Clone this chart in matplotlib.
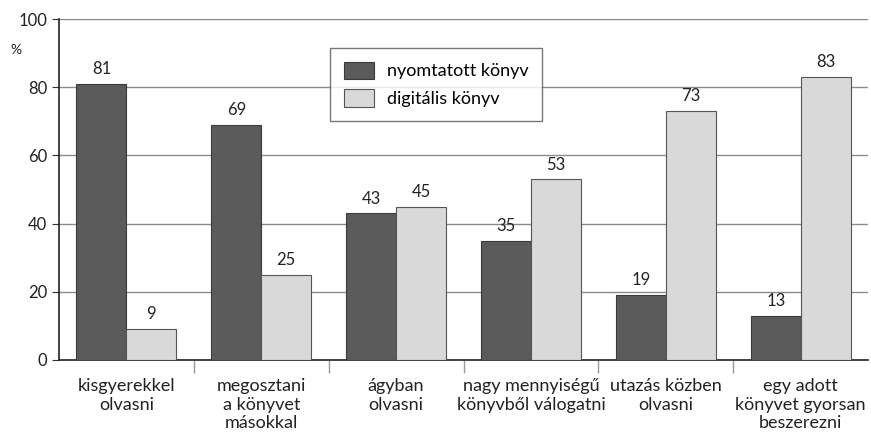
import numpy as np
import matplotlib
matplotlib.use('Agg')
from matplotlib import pyplot as plt

# adatok
kategoriak = ['kisgyerekkel\nolvasni', 'megosztani\na könyvet\nmásokkal', 'ágyban\nolvasni',
              'nagy mennyiségű\nkönyvből válogatni', 'utazás közben\nolvasni',
              'egy adott\nkönyvet gyorsan\nbeszerezni']
nyomtatott = [81, 69, 43, 35, 19, 13]
digitalis = [9, 25, 45, 53, 73, 83]
sorozat_nevek = ['nyomtatott könyv', 'digitális könyv']

plt.rcParams['font.family'] = ['Lato', 'DejaVu Sans']

fig = plt.figure(figsize=(8.71, 4.32), dpi=100)
ax = fig.add_axes([0.0677, 0.1667, 0.929, 0.789])

x = np.arange(len(kategoriak))
w = 0.37
b1 = ax.bar(x - w / 2, nyomtatott, w, color='#5b5b5b', edgecolor='#3a3a3a', linewidth=0.8,
            label=sorozat_nevek[0], zorder=3)
b2 = ax.bar(x + w / 2, digitalis, w, color='#d9d9d9', edgecolor='#555555', linewidth=0.8,
            label=sorozat_nevek[1], zorder=3)

for bars in (b1, b2):
    for r in bars:
        ax.text(r.get_x() + r.get_width() / 2, r.get_height() + 2.0, f'{int(r.get_height())}',
                ha='center', va='bottom', fontsize=12, color='#222222')

ax.set_xlim(-0.5, len(kategoriak) - 0.5)
ax.set_ylim(0, 100)
ax.set_yticks(range(0, 101, 20))
ax.yaxis.grid(True, color='#8a8a8a', linewidth=1, zorder=0)
ax.set_axisbelow(True)

# kategória-határok
ax.set_xticks(np.arange(0.5, len(kategoriak) - 1, 1))
ax.set_xticklabels([])
ax.set_xticks(x, minor=True)
ax.set_xticklabels(kategoriak, minor=True, fontsize=13, color='#222222', linespacing=1.2)
ax.tick_params(axis='x', which='minor', length=0, pad=13)
ax.tick_params(axis='x', which='major', length=9, color='#999999', width=1)
ax.tick_params(axis='y', length=5, color='#333333', labelsize=12, labelcolor='#222222')

for s in ['top', 'right']:
    ax.spines[s].set_visible(False)
ax.spines['left'].set_color('#222222')
ax.spines['bottom'].set_color('#222222')
ax.spines['left'].set_linewidth(1.2)
ax.spines['bottom'].set_linewidth(1.2)

fig.text(0.012, 0.875, '%', fontsize=10, color='#222222')

leg = ax.legend(loc='upper left', bbox_to_anchor=(0.335, 0.915), fontsize=13, frameon=True,
                fancybox=False, edgecolor='#555555', handlelength=1.7, handleheight=1.1,
                borderpad=0.75, labelspacing=0.55, handletextpad=0.7, borderaxespad=0)
leg.get_frame().set_linewidth(1)
leg.set_zorder(5)

plt.savefig('out.png', dpi=100)
plt.close()
